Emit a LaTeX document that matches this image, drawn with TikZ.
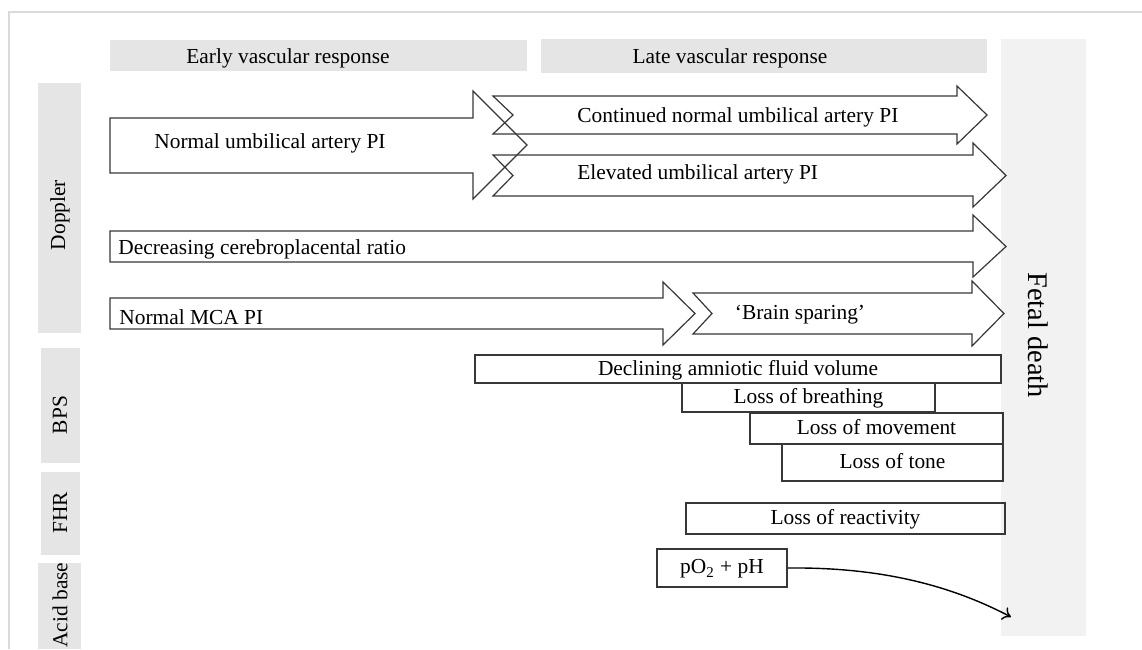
\documentclass[tikz,border=0pt]{standalone}
\usepackage{fontspec}
\setmainfont{Liberation Serif}
\usepackage{tikz}
\usetikzlibrary{shapes,arrows,arrows.meta,positioning}
\definecolor{hdrgray}{RGB}{229,229,229}
\definecolor{deathgray}{RGB}{242,242,242}
\definecolor{framegray}{RGB}{218,218,218}
\definecolor{edgegray}{RGB}{55,55,55}
\tikzstyle{hdr} = [fill=hdrgray]
\tikzstyle{death} = [fill=deathgray]
\tikzstyle{frame} = [draw=framegray, line width=1pt]
\tikzstyle{barrow} = [draw=edgegray, line width=0.6pt, line join=miter]
\tikzstyle{bbox} = [rectangle, draw=edgegray, line width=0.6pt, inner sep=0pt, text depth=0.3ex]
\tikzstyle{txt} = [inner sep=0pt, yshift=-1pt]
\tikzstyle{line} = [draw=black, line width=0.7pt, -{To[length=4pt, width=7pt]}]

\begin{document}
\begin{tikzpicture}[x=0.5pt, y=-0.5pt, font=\fontsize{10.7}{12}\selectfont]
			\useasboundingbox (0,0) rectangle (1142,649);
			\path [frame] (9,649) -- (9,12) -- (1142,12);

			% column and row headers
			\path [hdr] (110,40) rectangle (527,71);
			\path [hdr] (541,39) rectangle (987,73);
			\path [death] (1001,39) rectangle (1086,636);
			\path [hdr] (38,83) rectangle (81,333);
			\path [hdr] (41,348) rectangle (80,463);
			\path [hdr] (41,472) rectangle (80,555);
			\path [hdr] (38,563) rectangle (81,649);

			\node [txt] (early) at (288,56) {Early vascular response};
			\node [txt] (late) at (730,56) {Late vascular response};
			\node [inner sep=0pt, rotate=-90, font=\fontsize{14.2}{16}\selectfont] (fetal) at (1038,335) {Fetal death};
			\node [inner sep=0pt, rotate=90] (doppler) at (60,215) {Doppler};
			\node [inner sep=0pt, rotate=90] (bps) at (60,415) {BPS};
			\node [inner sep=0pt, rotate=90] (fhr) at (60,513) {FHR};
			\node [inner sep=0pt, rotate=90] (acid) at (60,605) {Acid base};

			% doppler arrows
			\path [barrow] (110,118) -- (473,118) -- (473,91) -- (527,145) -- (473,199) -- (473,173) -- (110,173) -- cycle;
			\path [barrow] (493,96) -- (957,96) -- (957,86) -- (987,115) -- (957,144) -- (957,134) -- (493,134) -- (513,115) -- cycle;
			\path [barrow] (493,155) -- (973,155) -- (973,143) -- (1006,175.5) -- (973,207) -- (973,196) -- (493,196) -- (513,175.5) -- cycle;
			\path [barrow] (110,231) -- (973,231) -- (973,215) -- (1006,246.5) -- (973,277) -- (973,262) -- (110,262) -- cycle;
			\path [barrow] (110,298) -- (663,298) -- (663,282) -- (695,313.5) -- (663,345) -- (663,329) -- (110,329) -- cycle;
			\path [barrow] (693,293) -- (972,293) -- (972,281) -- (1004,313.5) -- (972,346) -- (972,334) -- (693,334) -- (712,313.5) -- cycle;

			\node [txt] (nua) at (270,141) {Normal umbilical artery PI};
			\node [txt, anchor=west] (cua) at (577,115) {Continued normal umbilical artery PI};
			\node [txt, anchor=west] (eua) at (577,172) {Elevated umbilical artery PI};
			\node [txt, anchor=west] (cpr) at (118,247) {Decreasing cerebroplacental ratio};
			\node [txt, anchor=west] (mca) at (119,315) {Normal MCA PI};
			\node [txt] (bsp) at (800,313) {‘Brain sparing’};

			% BPS, FHR, acid base
			\node [bbox, minimum width=263pt, minimum height=14pt] (afv) at (738,369) {Declining amniotic fluid volume};
			\node [bbox, minimum width=126.5pt, minimum height=14.5pt] (brth) at (808.5,397.5) {Loss of breathing};
			\node [bbox, minimum width=126.5pt, minimum height=15.5pt] (move) at (876.5,428.5) {Loss of movement};
			\node [bbox, minimum width=110.5pt, minimum height=18.5pt] (tone) at (892.5,462.5) {Loss of tone};
			\node [bbox, minimum width=159.5pt, minimum height=15.5pt] (react) at (845.5,518.5) {Loss of reactivity};
			\node [bbox, minimum width=65pt, minimum height=19pt] (gas) at (722,568) {pO\textsubscript{2} + pH};
			\coordinate (fd) at (1011,617);

			\path [line] (gas.east) .. controls (880,567) and (950,585) .. (fd);
		\end{tikzpicture}
\end{document}
